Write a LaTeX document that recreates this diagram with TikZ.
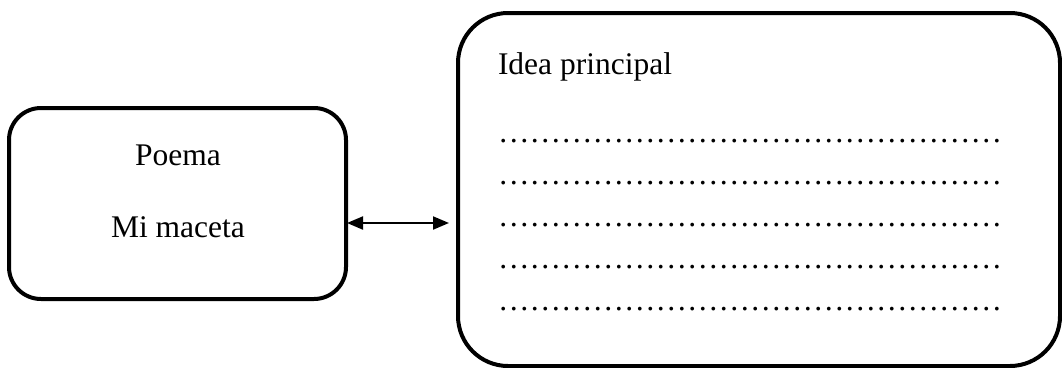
\documentclass[tikz,border=0pt]{standalone}
\usepackage{fontspec}
\setmainfont{Liberation Serif}
\usetikzlibrary{arrows.meta}
\newcommand\fourell{^^^^2026^^^^2026^^^^2026^^^^2026}
\begin{document}
\begin{tikzpicture}[x=1pt,y=-1pt,
  box/.style={draw=black,line width=4pt,rectangle,inner sep=0pt,outer sep=0pt},
  txt/.style={inner sep=0pt,outer sep=0pt,font=\fontsize{31.5}{38}\selectfont},
  link/.style={line width=2pt,{Triangle[length=16pt,width=13pt]}-{Triangle[length=16pt,width=13pt]}}]
\useasboundingbox (0,0) rectangle (1062,367);
\node[box,rounded corners=32pt,minimum width=337pt,minimum height=191pt] (poem) at (177.5,203.5) {};
\node[box,rounded corners=50pt,minimum width=602pt,minimum height=353pt] (idea) at (759,189.5) {};
\node[txt,anchor=base] (t1) at (178,165) {Poema};
\node[txt,anchor=base] (t2) at (178,237) {Mi maceta};
\node[txt,anchor=base west] (t3) at (498,74) {Idea principal};
\foreach \i/\y in {1/142,2/184,3/226,4/268,5/310}{
  \node[txt,anchor=base west] (d\i) at (498,\y) {\fourell\fourell\fourell\fourell};
}
\draw[link,shorten <=1pt,shorten >=9pt] (poem.east |- 0,223) coordinate (a1) -- (idea.west |- 0,223) coordinate (a2);
\end{tikzpicture}
\end{document}
